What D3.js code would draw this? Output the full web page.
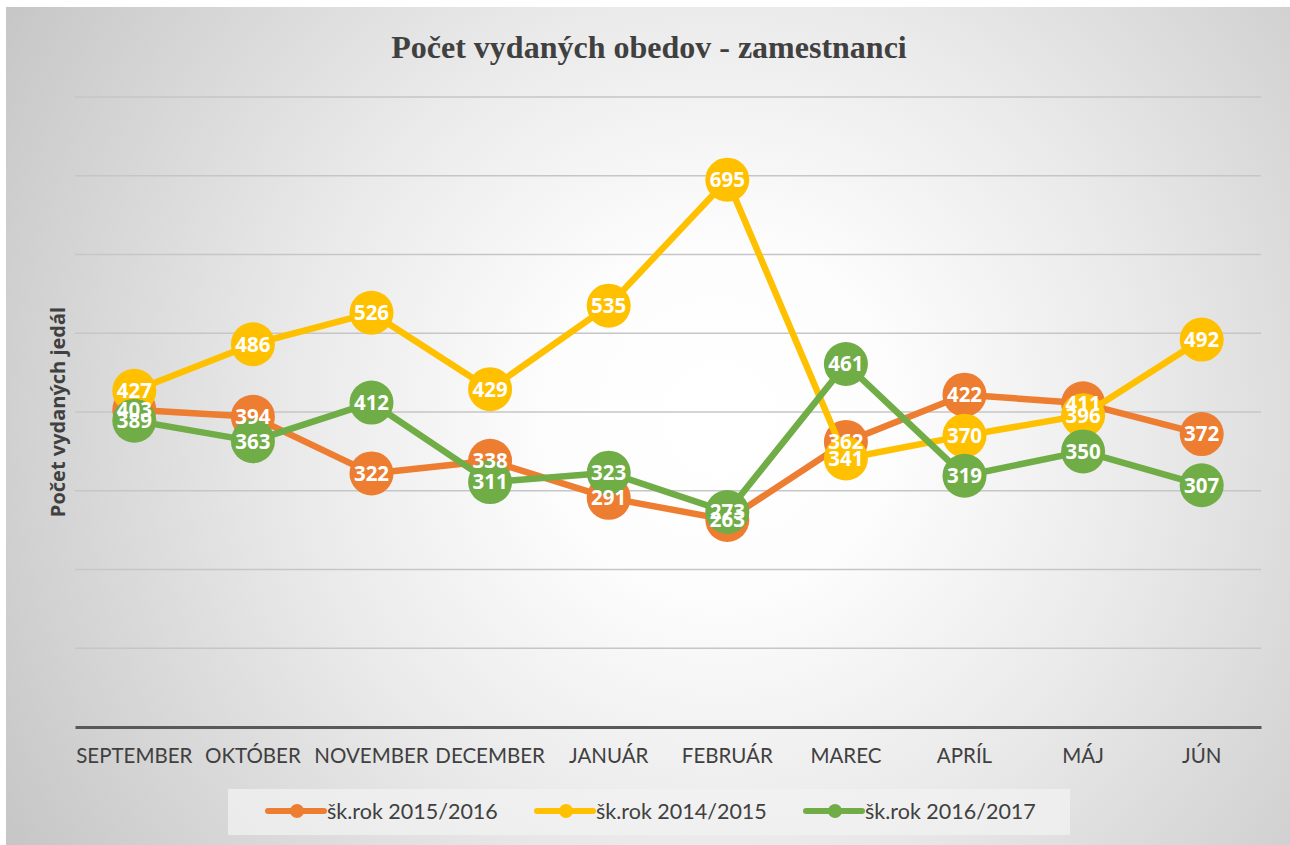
<!DOCTYPE html>
<html>
<head>
<meta charset="utf-8">
<script src="https://cdn.jsdelivr.net/npm/d3@7"></script>
<style>
  body { margin: 0; background: #fff; }
  svg { display: block; }
</style>
</head>
<body>
<script>
var months = ["SEPTEMBER", "OKTÓBER", "NOVEMBER", "DECEMBER", "JANUÁR", "FEBRUÁR", "MAREC", "APRÍL", "MÁJ", "JÚN"];
var rok1516 = [403, 394, 322, 338, 291, 263, 362, 422, 411, 372];
var rok1415 = [427, 486, 526, 429, 535, 695, 341, 370, 396, 492];
var rok1617 = [389, 363, 412, 311, 323, 273, 461, 319, 350, 307];
var seriesNames = ["šk.rok 2015/2016", "šk.rok 2014/2015", "šk.rok 2016/2017"];
var yTicks = [0, 100, 200, 300, 400, 500, 600, 700, 800];

var colors = ["#ED7D31", "#FFC000", "#70AD47"];
var series = [rok1516, rok1415, rok1617].map(function(v, i) {
    return { name: seriesNames[i], values: v, color: colors[i] };
});

var W = 1290, H = 845;
var svg = d3.select("body").append("svg")
    .attr("width", W)
    .attr("height", H);

// background gradient like the office chart area
var defs = svg.append("defs");
var grad = defs.append("radialGradient")
    .attr("id", "bg")
    .attr("gradientUnits", "userSpaceOnUse")
    .attr("cx", 720).attr("cy", 420).attr("r", 850);
grad.append("stop").attr("offset", 0).attr("stop-color", "#ffffff");
grad.append("stop").attr("offset", 0.2).attr("stop-color", "#fdfdfd");
grad.append("stop").attr("offset", 0.5).attr("stop-color", "#eaeaea");
grad.append("stop").attr("offset", 1).attr("stop-color", "#c4c4c4");

svg.append("rect")
    .attr("x", 6).attr("y", 7)
    .attr("width", W - 6).attr("height", H - 7)
    .attr("fill", "url(#bg)");

var x = d3.scaleBand().domain(months).range([75, 1261]);
var y = d3.scaleLinear().domain([0, 800]).range([727, 97]);
var cx = function(d, i) { return x(months[i]) + x.bandwidth() / 2; };

// gridlines
svg.append("g")
    .selectAll("line")
    .data(yTicks.filter(function(t) { return t > 0; }))
    .enter().append("line")
    .attr("x1", 75).attr("x2", 1261)
    .attr("y1", function(d) { return y(d); })
    .attr("y2", function(d) { return y(d); })
    .attr("stroke", "#c6c6c6")
    .attr("stroke-width", 1.5);

// x axis
var xAxis = svg.append("g")
    .attr("transform", "translate(0," + y(0) + ")")
    .call(d3.axisBottom(x).tickSize(0).tickPadding(21));
xAxis.select(".domain").attr("stroke", "#595959").attr("stroke-width", 3);
xAxis.selectAll("text")
    .attr("fill", "#404040")
    .style("font-family", "Lato, 'Open Sans', sans-serif")
    .style("font-size", "20.5px");

// title
svg.append("text")
    .attr("x", 649).attr("y", 58)
    .attr("text-anchor", "middle")
    .attr("fill", "#404040")
    .style("font-family", "'Liberation Serif', serif")
    .style("font-weight", "bold")
    .style("font-size", "32px")
    .text("Počet vydaných obedov - zamestnanci");

// y axis title
svg.append("text")
    .attr("transform", "translate(65,412) rotate(-90)")
    .attr("text-anchor", "middle")
    .attr("fill", "#404040")
    .style("font-family", "'Open Sans', sans-serif")
    .style("font-weight", "bold")
    .style("font-size", "20px")
    .text("Počet vydaných jedál");

var line = d3.line()
    .x(cx)
    .y(function(d) { return y(d); });

var groups = svg.selectAll(".series")
    .data(series)
    .enter().append("g")
    .attr("class", "series");

groups.append("path")
    .attr("d", function(s) { return line(s.values); })
    .attr("fill", "none")
    .attr("stroke", function(s) { return s.color; })
    .attr("stroke-width", 6.5)
    .attr("stroke-linejoin", "round");

groups.selectAll("circle")
    .data(function(s) { return s.values.map(function(v) { return { v: v, c: s.color }; }); })
    .enter().append("circle")
    .attr("cx", cx)
    .attr("cy", function(d) { return y(d.v); })
    .attr("r", 22)
    .attr("fill", function(d) { return d.c; });

// data labels on top of everything
series.forEach(function(s) {
    svg.append("g").selectAll("text")
        .data(s.values)
        .enter().append("text")
        .attr("x", cx)
        .attr("y", function(d) { return y(d); })
        .attr("dy", "0.36em")
        .attr("text-anchor", "middle")
        .attr("fill", "#fff")
        .style("font-family", "'Open Sans', sans-serif")
        .style("font-weight", "bold")
        .style("font-size", "20.5px")
        .text(function(d) { return d; });
});

// legend
svg.append("rect")
    .attr("x", 228).attr("y", 789)
    .attr("width", 842).attr("height", 46)
    .attr("fill", "#f2f2f2")
    .attr("fill-opacity", 0.75);

var legendX = [268, 537, 806];
var leg = svg.selectAll(".leg")
    .data(series)
    .enter().append("g")
    .attr("transform", function(d, i) { return "translate(" + legendX[i] + ",811)"; });
leg.append("line")
    .attr("x1", 0).attr("x2", 56)
    .attr("stroke", function(d) { return d.color; })
    .attr("stroke-width", 6)
    .attr("stroke-linecap", "round");
leg.append("circle")
    .attr("cx", 29).attr("r", 7)
    .attr("fill", function(d) { return d.color; });
leg.append("text")
    .attr("x", 59)
    .attr("dy", "0.36em")
    .attr("fill", "#404040")
    .style("font-family", "Lato, 'Open Sans', sans-serif")
    .style("font-size", "21.5px")
    .text(function(d) { return d.name; });
</script>
</body>
</html>
